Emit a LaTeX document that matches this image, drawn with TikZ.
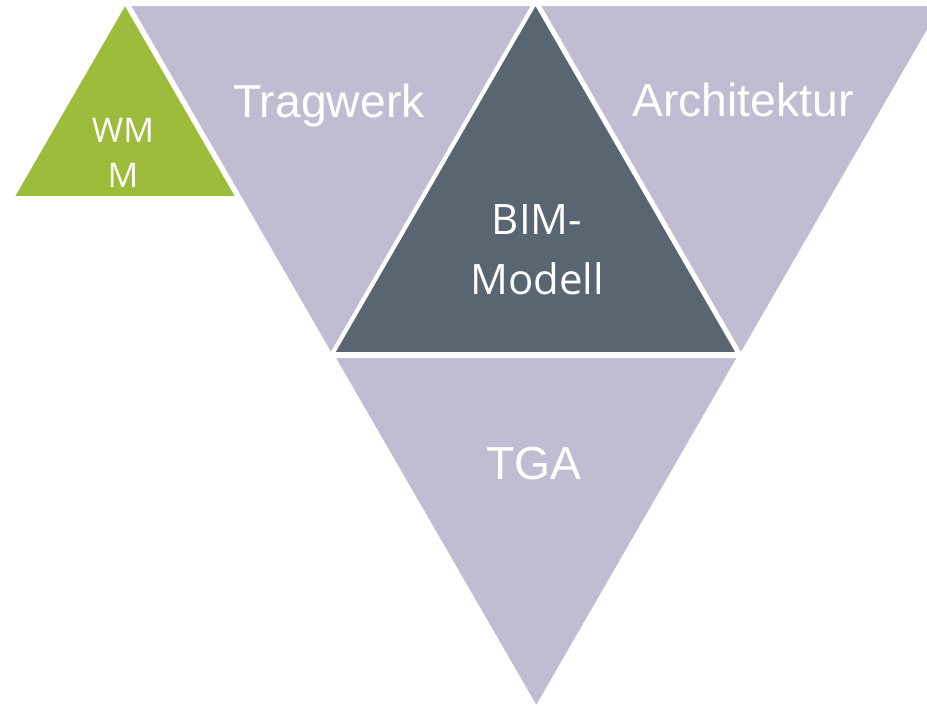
\documentclass[tikz,border=0pt]{standalone}
\usepackage{fontspec}
\setmainfont{Liberation Sans}
\newfontfamily\uifont{Open Sans}
\definecolor{lilac}{RGB}{192,189,211}
\definecolor{slate}{RGB}{89,101,113}
\definecolor{grass}{RGB}{157,188,59}

\begin{document}
\begin{tikzpicture}[
        x=0.03cm, y=-0.03cm,
        tri/.style={draw=white, line width=0.12cm, line join=miter},
        big/.style={text=white, inner sep=0pt, font=\fontsize{39.5}{47}\selectfont},
        small/.style={text=white, inner sep=0pt, align=center}
      ]
        \useasboundingbox (0,0) rectangle (927,706);
        \clip (0,0) rectangle (927,706);
        % corner points of the five triangles
        \coordinate (tw1) at (127.8,4);   \coordinate (tw2) at (534.2,4);   \coordinate (tw3) at (331,356);
        \coordinate (bim1) at (535.5,2);  \coordinate (bim2) at (332.2,354); \coordinate (bim3) at (738.7,354);
        \coordinate (ar1) at (537.8,4);   \coordinate (ar2) at (944.2,4);   \coordinate (ar3) at (741,356);
        \coordinate (tga1) at (332.5,356); \coordinate (tga2) at (740,356); \coordinate (tga3) at (536.3,709);
        \coordinate (wmm1) at (125,2);    \coordinate (wmm2) at (11.8,198); \coordinate (wmm3) at (238.2,198);
        \filldraw[tri, fill=lilac] (tw1) -- (tw2) -- (tw3) -- cycle;
        \filldraw[tri, fill=lilac] (ar1) -- (ar2) -- (ar3) -- cycle;
        \filldraw[tri, fill=lilac] (tga1) -- (tga2) -- (tga3) -- cycle;
        \filldraw[tri, fill=slate] (bim1) -- (bim2) -- (bim3) -- cycle;
        \filldraw[tri, fill=grass] (wmm1) -- (wmm2) -- (wmm3) -- cycle;
        \node (tragwerk) [big, anchor=base] at (329,118) {Tragwerk};
        \node (archi)    [big, anchor=base] at (743,117) {Architektur};
        \node (tga)      [big, anchor=base] at (534,479) {TGA};
        \node (bim)      [small, font=\uifont\fontsize{35.8}{51}\selectfont] at (537,250) {BIM-\\Modell};
        \node (wmm)      [small, font=\uifont\fontsize{29}{38}\selectfont] at (123,153) {WM\\M};
      \end{tikzpicture}
\end{document}
